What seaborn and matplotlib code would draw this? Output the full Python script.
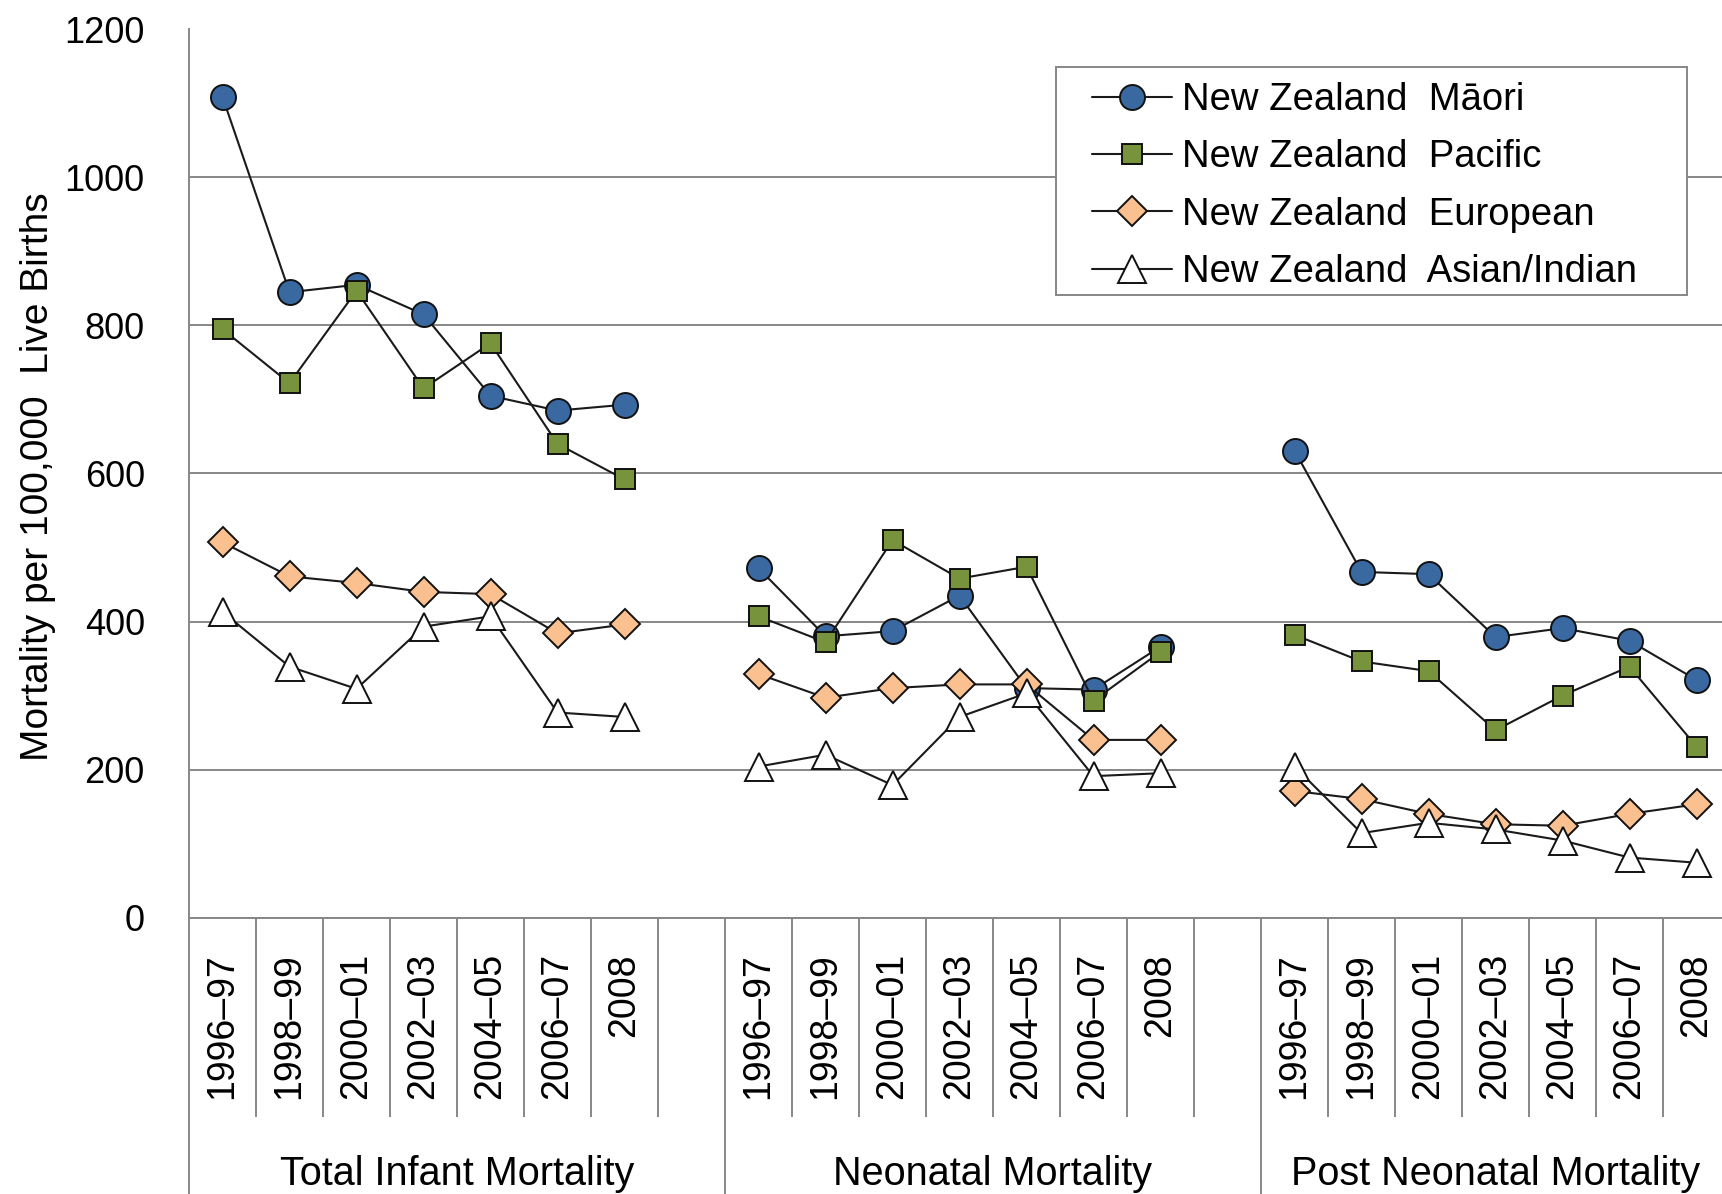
import matplotlib
matplotlib.use("Agg")
import matplotlib.pyplot as plt
from matplotlib.patches import Rectangle
import seaborn as sns

# Chart data
periods = ["1996–97", "1998–99", "2000–01", "2002–03", "2004–05", "2006–07", "2008"]
sections = ["Total Infant Mortality", "Neonatal Mortality", "Post Neonatal Mortality"]
series_names = ["New Zealand  Māori", "New Zealand  Pacific",
                "New Zealand  European", "New Zealand  Asian/Indian"]

# one list per section: total, neonatal, post neonatal
maori = [[1109, 845, 855, 815, 705, 685, 693],
         [472, 380, 387, 435, 310, 308, 366],
         [631, 467, 464, 379, 391, 374, 321]]
pacific = [[795, 722, 847, 715, 776, 640, 592],
           [407, 372, 510, 458, 474, 293, 359],
           [382, 346, 333, 253, 300, 339, 231]]
european = [[507, 461, 452, 440, 437, 384, 396],
            [329, 297, 310, 315, 315, 240, 240],
            [171, 160, 140, 126, 124, 140, 153]]
asian = [[413, 339, 309, 393, 407, 277, 271],
         [204, 220, 179, 271, 303, 191, 195],
         [204, 114, 128, 119, 104, 81, 74]]

all_series = [maori, pacific, european, asian]
markers = ["o", "s", "D", "^"]
face_colors = ["#3A68A0", "#77933C", "#FAC090", "white"]
marker_sizes = [18, 14.5, 15, 19.5]

GRID = "#878787"
W, H = 1722, 1194

sns.set_style("white")
plt.rcParams["font.family"] = ["Liberation Sans", "DejaVu Sans"]
plt.rcParams["text.color"] = "black"
plt.rcParams["xtick.labelcolor"] = "black"
plt.rcParams["ytick.labelcolor"] = "black"

fig = plt.figure(figsize=(W / 100, H / 100), dpi=100)
ax = fig.add_axes([189 / W, (H - 917.5) / H, 1541 / W, 888 / H])

slot = 8  # 7 periods + one empty slot per section
handles = []
for name, data, mk, fc, ms in zip(series_names, all_series, markers, face_colors, marker_sizes):
    for s, vals in enumerate(data):
        xs = [s * slot + i for i in range(len(periods))]
        sns.lineplot(x=xs, y=vals, ax=ax, color="#1a1a1a", linewidth=1.5,
                     marker=mk, markersize=ms, markerfacecolor=fc,
                     markeredgecolor="#111111", markeredgewidth=1.4,
                     errorbar=None, legend=False)
        if s == 0:
            handles.append(ax.lines[-1])

# axes and grid
ax.set_xlim(-0.5, 22.5)
ax.set_ylim(0, 1200)
ax.set_yticks(range(0, 1201, 200))
ax.yaxis.grid(True, color=GRID, linewidth=1.4)
ax.set_axisbelow(True)
for side in ["top", "right"]:
    ax.spines[side].set_visible(False)
for side in ["left", "bottom"]:
    ax.spines[side].set_color(GRID)
    ax.spines[side].set_linewidth(1.4)
ax.tick_params(axis="y", length=10.8, width=1.4, color=GRID, pad=21, labelsize=26)

tick_pos = [s * slot + i for s in range(3) for i in range(len(periods))]
ax.set_xticks(tick_pos, periods * 3, rotation=90)
ax.tick_params(axis="x", length=0, pad=25.6, labelsize=27)

# category separators below the axis
xt = ax.get_xaxis_transform()
short_b = [k - 0.5 for k in list(range(1, 8)) + list(range(9, 16)) + list(range(17, 23))]
long_b = [-0.5, 7.5, 15.5]
ax.vlines(short_b, -0.2247, 0, transform=xt, colors=GRID, linewidth=1.4, clip_on=False)
ax.vlines(long_b, -0.35, 0, transform=xt, colors=GRID, linewidth=1.4, clip_on=False)

group_centres = [3.5, 11.5, 19.0]
for name, cx in zip(sections, group_centres):
    ax.text(cx, -0.3012, name, transform=xt, ha="center", va="baseline", fontsize=28.5)

fig.text(38 / W, 1 - 477 / H, "Mortality per 100,000  Live Births", rotation=90,
         ha="center", va="center", fontsize=28)

# legend box, drawn inside the axes so the legend can sit above it
ax.add_patch(Rectangle((1056 / W, 1 - 295 / H), (1687 - 1056) / W, (295 - 67) / H,
                       transform=fig.transFigure, facecolor="white", clip_on=False,
                       edgecolor=GRID, linewidth=1.4, zorder=4))
leg = ax.legend(handles, series_names, loc="upper left",
                bbox_to_anchor=(1092 / W, 1 - 82 / H),
                bbox_transform=fig.transFigure, frameon=False, fontsize=27.5,
                borderpad=0, borderaxespad=0, labelspacing=0.56,
                handlelength=2.1, handletextpad=0.25, numpoints=1)
leg.set_zorder(6)

fig.savefig("out.png", dpi=100)
